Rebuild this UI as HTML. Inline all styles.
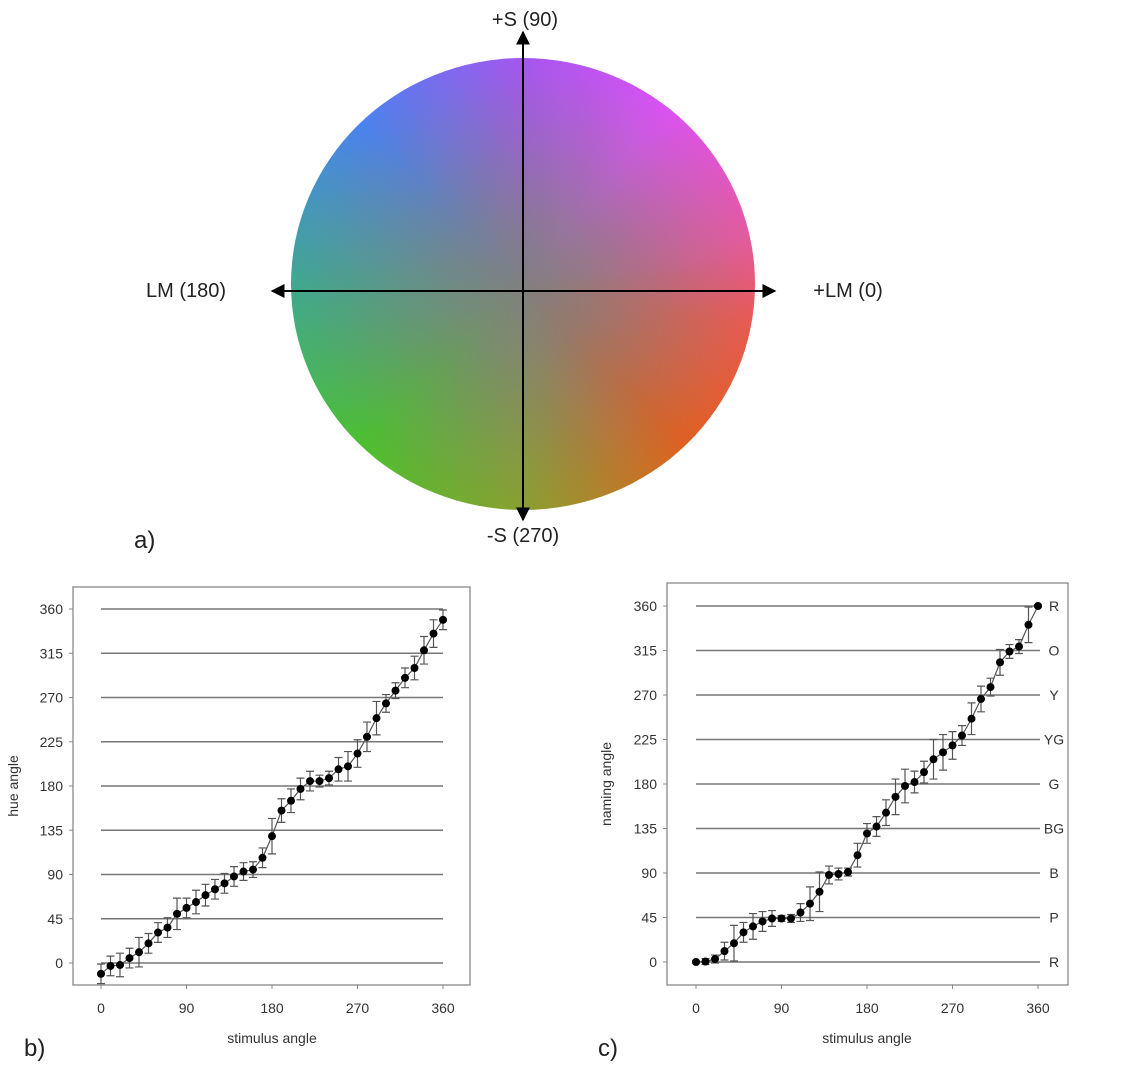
<!DOCTYPE html>
<html><head><meta charset="utf-8"><style>
body{margin:0;background:#fff;width:1124px;height:1066px;overflow:hidden;font-family:"Liberation Sans",sans-serif}
#wheel{position:absolute;left:291px;top:58px;width:464px;height:452px;border-radius:50%;
background:radial-gradient(closest-side,rgba(128,128,128,1) 0%,rgba(128,128,128,0.75) 30%,rgba(128,128,128,0.3) 70%,rgba(128,128,128,0) 100%),
conic-gradient(from 0deg,#a656f0 0deg,#dc52f2 40deg,#e55a9a 80deg,#e85a50 100deg,#e06020 135deg,#8aa030 180deg,#4cc030 225deg,#40a890 270deg,#4a82f0 315deg,#a656f0 360deg);}
</style></head><body>
<div id="wheel"></div>
<svg width="1124" height="1066" style="position:absolute;left:0;top:0" xmlns="http://www.w3.org/2000/svg">
<defs><marker id="ah" viewBox="0 0 10 10" refX="9" refY="5" markerWidth="7" markerHeight="7" orient="auto-start-reverse"><path d="M0,0 L10,5 L0,10 z" fill="#000"/></marker></defs>
<g>
<line x1="272" y1="291" x2="775" y2="291" stroke="#000" stroke-width="2" marker-start="url(#ah)" marker-end="url(#ah)"/>
<line x1="523" y1="32" x2="523" y2="520" stroke="#000" stroke-width="2" marker-start="url(#ah)" marker-end="url(#ah)"/>
</g>
<g font-size="20" fill="#222">
<text x="525" y="26" text-anchor="middle">+S (90)</text>
<text x="186" y="297" text-anchor="middle">LM (180)</text>
<text x="848" y="297" text-anchor="middle">+LM (0)</text>
<text x="523" y="542" text-anchor="middle">-S (270)</text>
<text x="134" y="548" font-size="24">a)</text>
<text x="24" y="1056" font-size="24">b)</text>
<text x="598" y="1056" font-size="24">c)</text>
</g>
<g id="chartB"></g>
<g id="chartC"></g>
</svg>
<script>
const stimulus=[0,10,20,30,40,50,60,70,80,90,100,110,120,130,140,150,160,170,180,190,200,210,220,230,240,250,260,270,280,290,300,310,320,330,340,350,360];
const hueValues=[-11,-3,-2,5,11,20,31,36,50,56,62,69,75,81,88,93,95,107,129,155,165,177,185,185,188,197,200,213,230,249,264,277,290,300,318,335,349];
const hueErr=[10,10,12,10,15,10,10,10,16,10,12,11,10,10,10,9,8,10,18,12,12,11,10,6,7,12,15,14,15,17,9,8,10,12,14,14,10];
const namingValues=[0,0.5,3,11,19,30,36,41,44,44,44,50,59,71,88,89,91,108,130,137,151,167,178,182,192,205,212,219,229,246,266,278,303,314,319,341,360];
const namingErr=[1,3,4,9,18,10,13,10,8,3,4,9,17,20,9,6,4,12,10,10,13,18,17,11,11,20,18,14,10,16,13,9,13,7,7,18,1];
const yTicks=[0,45,90,135,180,225,270,315,360];
const xTicks=[0,90,180,270,360];
const colorNames=["R","P","B","BG","G","YG","Y","O","R"];
const NS="http://www.w3.org/2000/svg";
function mk(parent,tag,attrs,text){const e=document.createElementNS(NS,tag);for(const k in attrs)e.setAttribute(k,attrs[k]);if(text!==undefined)e.textContent=text;parent.appendChild(e);return e;}
function chart(g,cfg,vals,errs,title){
 const xs=v=>cfg.x0+(cfg.x1-cfg.x0)*v/360, ys=v=>cfg.y0-(cfg.y0-cfg.y1)*v/360;
 const f=mk(g,'rect',{x:cfg.fl,y:cfg.ft,width:cfg.fr-cfg.fl,height:cfg.fb-cfg.ft,fill:'none',stroke:'#888','stroke-width':1.3});
 
 yTicks.forEach((t,i)=>{
  const gl=mk(g,'line',{x1:xs(0),x2:cfg.gx2,y1:ys(t),y2:ys(t),stroke:'#777','stroke-width':1.6});
  
  mk(g,'line',{x1:cfg.fl-4,x2:cfg.fl,y1:ys(t),y2:ys(t),stroke:'#888'});
  const tl=mk(g,'text',{x:cfg.fl-10,y:ys(t)+5,'text-anchor':'end','font-size':14,fill:'#333'},t);
  
  if(cfg.names){const nl=mk(g,'text',{x:cfg.nx,y:ys(t)+5,'text-anchor':'middle','font-size':14,fill:'#333'},colorNames[i]);
  }
 });
 xTicks.forEach(t=>{
  mk(g,'line',{x1:xs(t),x2:xs(t),y1:cfg.fb,y2:cfg.fb+4,stroke:'#888'});
  const tl=mk(g,'text',{x:xs(t),y:cfg.fb+28,'text-anchor':'middle','font-size':14,fill:'#333'},t);
  
 });
 const xt=mk(g,'text',{x:(xs(0)+xs(360))/2,y:cfg.fb+58,'text-anchor':'middle','font-size':14,fill:'#333'},'stimulus angle');
 
 const yt=mk(g,'text',{x:0,y:0,transform:`translate(${cfg.tx},${(ys(0)+ys(360))/2}) rotate(-90)`,'text-anchor':'middle','font-size':14,fill:'#333'},title);
 
 const pl=mk(g,'polyline',{points:stimulus.map((s,i)=>xs(s)+','+ys(vals[i])).join(' '),fill:'none',stroke:'#555','stroke-width':1.2});
 
 stimulus.forEach((s,i)=>{
  const x=xs(s),a=ys(vals[i]-errs[i]),b=ys(vals[i]+errs[i]);
  const eb=mk(g,'path',{d:`M${x},${a}V${b}M${x-4},${a}H${x+4}M${x-4},${b}H${x+4}`,stroke:'#555','stroke-width':1.2,fill:'none'});
  
  const c=mk(g,'circle',{cx:x,cy:ys(vals[i]),r:4,fill:'#000'});
  
 });
}
chart(document.getElementById('chartB'),{x0:101,x1:443,y0:963,y1:609,fl:73,fr:470,ft:587,fb:985,gx2:443,tx:18},hueValues,hueErr,'hue angle');
chart(document.getElementById('chartC'),{x0:696,x1:1038,y0:962,y1:606,fl:667,fr:1068,ft:583,fb:985,gx2:1040,nx:1054,tx:611,names:true},namingValues,namingErr,'naming angle');
</script>
</body></html>
